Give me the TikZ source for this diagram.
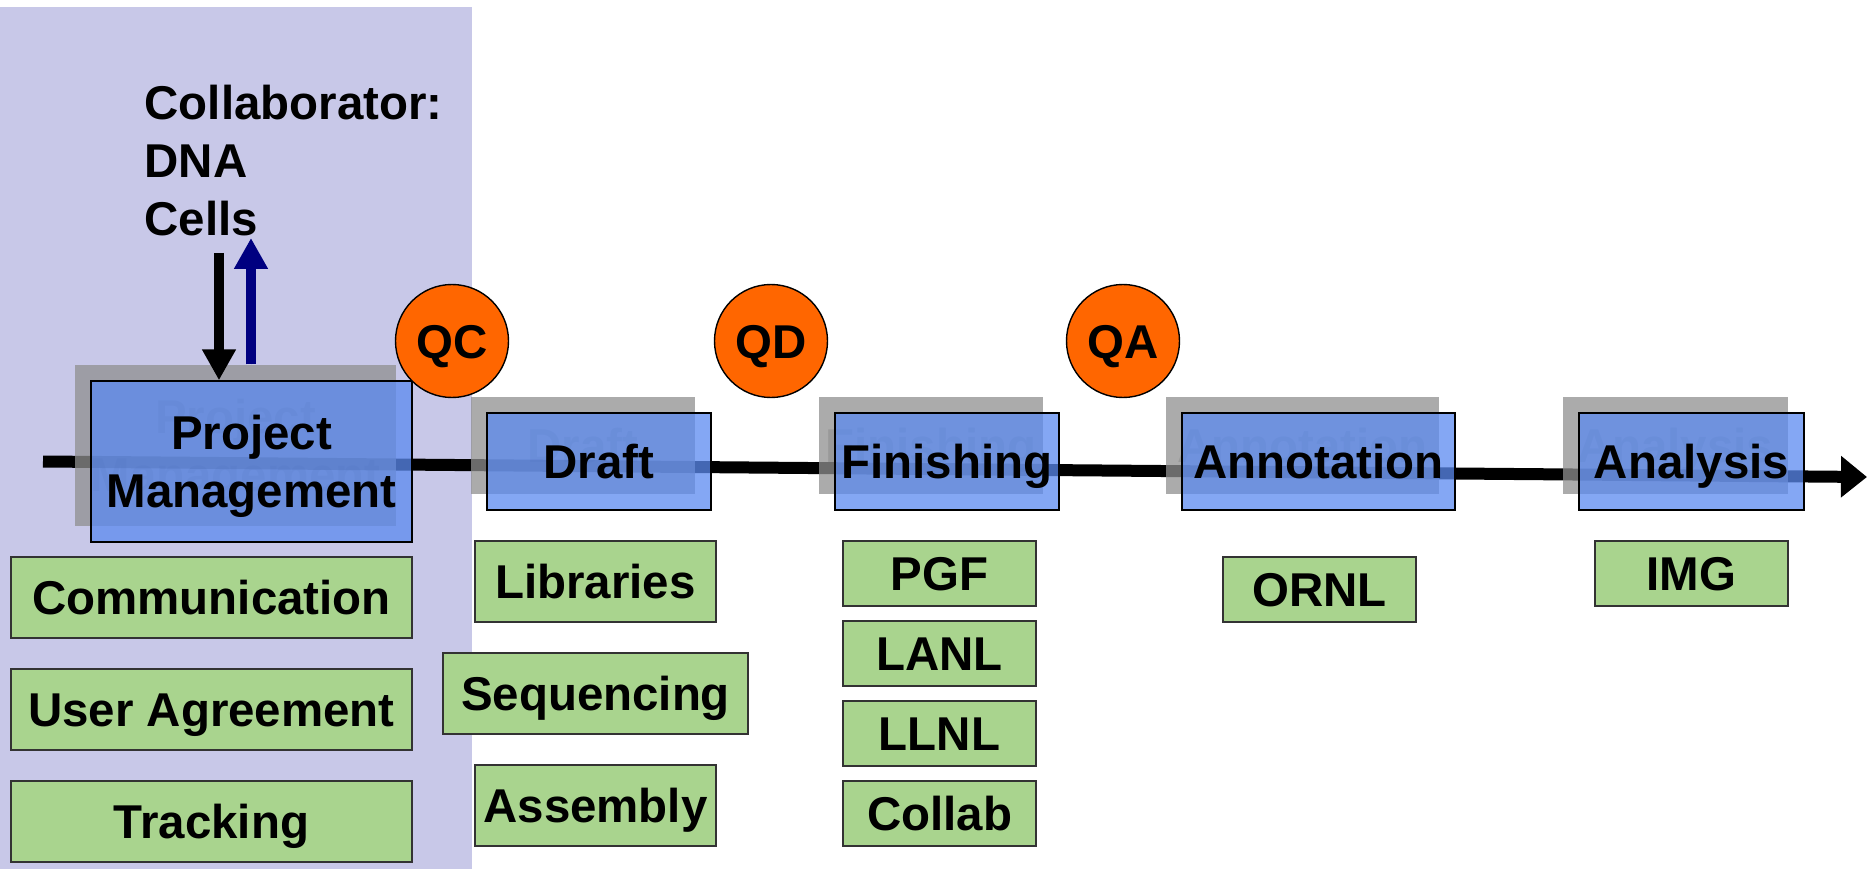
\documentclass[tikz,border=0pt]{standalone}
\usepackage{fontspec}
\setmainfont{Liberation Sans}
\usetikzlibrary{arrows.meta, positioning}
\definecolor{panelc}{HTML}{C8C8E8}
\definecolor{stagec}{HTML}{5B8AF0}
\definecolor{shadowc}{HTML}{8F8F8F}
\definecolor{taskc}{HTML}{A9D48E}
\definecolor{gatec}{HTML}{FF6600}
\definecolor{navyc}{HTML}{000080}
\definecolor{edgec}{HTML}{333333}
\newcommand{\lblfont}{\bfseries\fontsize{13.5}{16.5}\selectfont}
\tikzset{
  stage/.style={draw=black, thin, fill=stagec, fill opacity=0.75, text opacity=1,
                minimum height=0.97cm, inner sep=0pt, font=\lblfont,
                text height=9.7pt, text depth=0pt},
  ghost/.style={fill=shadowc, fill opacity=0.75, text=black, text opacity=0.1,
                minimum height=0.97cm, inner sep=0pt, font=\lblfont,
                text height=9.7pt, text depth=0pt},
  task/.style={draw=edgec, thin, fill=taskc, inner sep=0pt, font=\lblfont,
               text height=9.7pt, text depth=0pt},
  gate/.style={circle, draw=black, thin, fill=gatec, minimum size=1.13cm,
               inner sep=0pt, font=\lblfont, text height=9.7pt, text depth=0pt},
  timeline/.style={line width=0.12cm, -{Triangle[length=0.26cm, width=0.40cm]}},
  inflow/.style={line width=0.1cm, -{Triangle[length=0.31cm, width=0.32cm]}},
  outflow/.style={inflow, draw=navyc, fill=navyc},
}

\begin{document}
\begin{tikzpicture}[y=-1cm]
  \useasboundingbox (0,0) rectangle (18.67,8.69);
  % collaborator side
  \fill[panelc] (0,0.07) rectangle (4.72,8.69);

  % time line
  \coordinate (tstart) at (0.43,4.615);
  \coordinate (tend) at (18.67,4.77);
  \draw[timeline] (tstart) -- (tend);

  % stages
  \node[ghost, minimum width=3.21cm, minimum height=1.61cm, align=center,
        text height={}] (shpm) at (2.355,4.455) {Project\\Management};
  \node[stage, minimum width=3.21cm, minimum height=1.61cm, align=center,
        text height={}] (pm) at (2.515,4.615) {Project\\Management};
  \foreach \n/\x/\w/\lbl in {draft/5.99/2.24/Draft, fin/9.47/2.24/Finishing,
                             ann/13.185/2.73/Annotation, ana/16.915/2.25/Analysis}{
    \node[ghost, minimum width=\w cm] (sh\n) at (\x-0.16,4.455) {\lbl};
    \node[stage, minimum width=\w cm] (\n) at (\x,4.615) {\lbl};
  }

  % quality gates
  \foreach \n/\x in {QC/4.52, QD/7.71, QA/11.23}
    \node[gate] (\n) at (\x,3.41) {\n};

  % tasks under each stage
  \foreach \n/\x/\y/\w/\h/\lbl in {
      com/2.115/5.975/4.01/0.81/Communication,
      usr/2.115/7.095/4.01/0.81/User Agreement,
      trk/2.115/8.215/4.01/0.81/Tracking,
      lib/5.955/5.815/2.41/0.81/Libraries,
      seq/5.955/6.935/3.05/0.81/Sequencing,
      asm/5.955/8.055/2.41/0.81/Assembly,
      pgf/9.395/5.735/1.93/0.65/PGF,
      lanl/9.395/6.535/1.93/0.65/LANL,
      llnl/9.395/7.335/1.93/0.65/LLNL,
      clb/9.395/8.135/1.93/0.65/Collab,
      ornl/13.195/5.895/1.93/0.65/ORNL,
      img/16.915/5.735/1.93/0.65/IMG}
    \node[task, minimum width=\w cm, minimum height=\h cm] (\n) at (\x,\y) {\lbl};

  % collaborator hand-off
  \node[font=\lblfont, align=left, anchor=north west, inner sep=0pt]
    (collab) at (1.44,0.845) {Collaborator:\\DNA\\Cells};
  \coordinate (dnain) at (2.19,2.53);
  \coordinate (dnaout) at (2.51,2.38);
  \draw[inflow] (dnain) -- (dnain |- pm.north);
  \draw[outflow] (dnaout |- shpm.north) -- (dnaout);
\end{tikzpicture}
\end{document}
